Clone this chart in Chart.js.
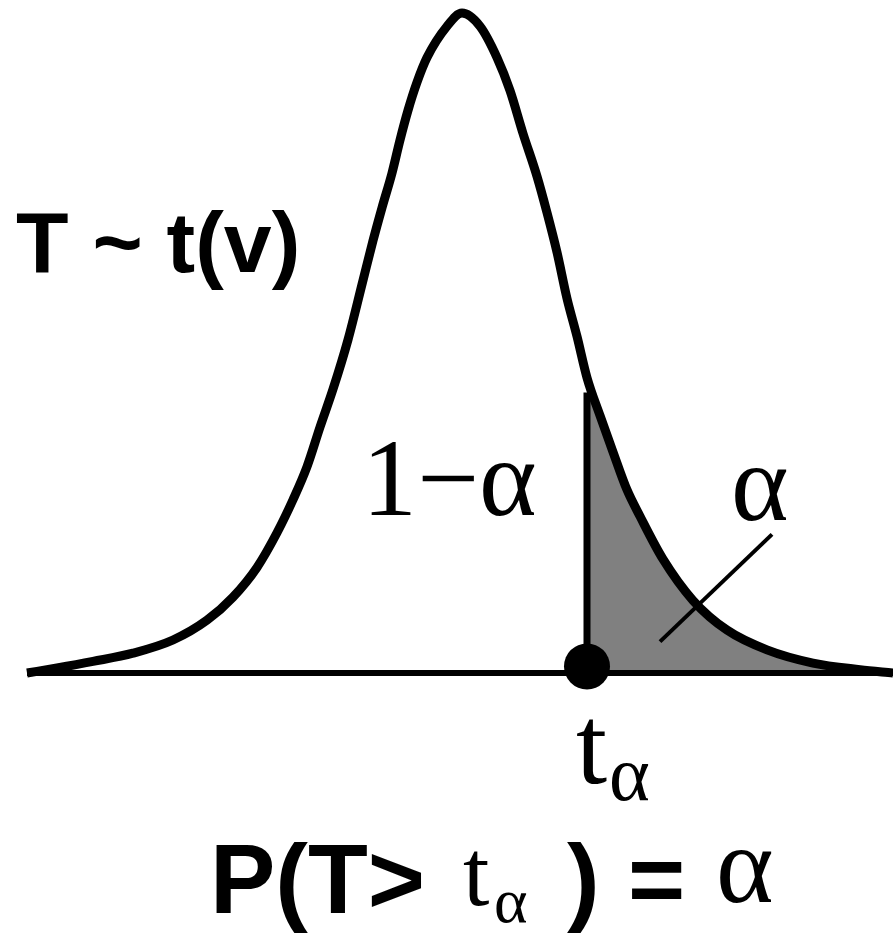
<!DOCTYPE html>
<html>
<head>
<meta charset="utf-8">
<script src="https://cdn.jsdelivr.net/npm/chart.js@4.4.1/dist/chart.umd.min.js"></script>
<style>
  html, body { margin: 0; padding: 0; background: #fff; }
  #chart { display: block; }
</style>
</head>
<body>
<canvas id="chart" width="893" height="933"></canvas>
<script>
// density curve (t value, height)
const curveX = [-4.35, -4.05, -3.69, -3.29, -2.89, -2.55, -2.29, -2.05, -1.85, -1.69,
  -1.55, -1.42, -1.29, -1.14, -0.99, -0.89, -0.80, -0.70, -0.62, -0.54,
  -0.45, -0.35, -0.15, 0, 0.18, 0.35, 0.48, 0.61, 0.75, 0.85,
  0.95, 1.05, 1.15, 1.25, 1.38, 1.51, 1.65, 1.78, 2.01, 2.31,
  2.65, 3.05, 3.51, 3.98, 4.31];
const curveY = [0, 0.003, 0.007, 0.012, 0.020, 0.032, 0.046, 0.064, 0.085, 0.105,
  0.125, 0.149, 0.172, 0.202, 0.238, 0.262, 0.282, 0.303, 0.323, 0.341,
  0.358, 0.373, 0.392, 0.400, 0.392, 0.373, 0.353, 0.327, 0.301, 0.279,
  0.255, 0.227, 0.204, 0.179, 0.156, 0.134, 0.111, 0.095, 0.069, 0.044,
  0.026, 0.014, 0.006, 0.002, 0];

// critical value t_alpha and the top of its line
const tAlpha = 1.25;
const tAlphaHeight = 0.170;

// axis line ends
const baseX = [-4.35, 4.31];

// pointer from the tail area to the alpha label
const pointerX = [1.98, 3.10];
const pointerY = [0.019, 0.084];

// ---- build datasets
const curvePts = curveX.map((x, i) => ({ x: x, y: curveY[i] }));
const tailPts = [{ x: tAlpha, y: tAlphaHeight }].concat(curvePts.filter(p => p.x > tAlpha));

const textPlugin = {
  id: 'labels',
  beforeDraw: (chart) => {
    const ctx = chart.ctx;
    ctx.save();
    ctx.fillStyle = '#fff';
    ctx.fillRect(0, 0, chart.width, chart.height);
    ctx.restore();
  },
  afterDraw: (chart) => {
    const ctx = chart.ctx;
    ctx.save();
    ctx.fillStyle = '#000';
    ctx.textAlign = 'left';
    ctx.textBaseline = 'alphabetic';

    ctx.font = 'bold 86px "Liberation Sans", Arial, sans-serif';
    ctx.fillText('T ~ t(v)', 16, 272);

    ctx.font = '110px "Liberation Serif", "Times New Roman", serif';
    ctx.fillText('1\u2212\u03b1', 362, 515);
    ctx.fillText('\u03b1', 731, 520);

    // t_alpha under the dot
    ctx.font = '112px "Liberation Serif", serif';
    ctx.fillText('t', 576, 783);
    ctx.font = '78px "Liberation Serif", serif';
    ctx.fillText('\u03b1', 609, 800);

    // P(T> t_alpha ) = alpha
    ctx.font = 'bold 98px "Liberation Sans", Arial, sans-serif';
    ctx.fillText('P(T>', 210, 913);
    ctx.font = '95px "Liberation Serif", serif';
    ctx.fillText('t', 463, 905);
    ctx.font = '64px "Liberation Serif", serif';
    ctx.fillText('\u03b1', 494, 922);
    ctx.font = 'bold 98px "Liberation Sans", Arial, sans-serif';
    ctx.fillText(')', 567, 913);
    ctx.fillText('=', 628, 913);
    ctx.font = '110px "Liberation Serif", serif';
    ctx.fillText('\u03b1', 716, 902);
    ctx.restore();
  }
};

new Chart(document.getElementById('chart'), {
  type: 'scatter',
  data: {
    datasets: [
      {
        label: 'dot',
        data: [{ x: tAlpha, y: 0.004 }],
        pointRadius: 23,
        pointBackgroundColor: '#000',
        pointBorderWidth: 0,
        order: 0
      },
      {
        label: 'density',
        data: curvePts,
        showLine: true,
        borderColor: '#000',
        borderWidth: 9,
        pointRadius: 0,
        cubicInterpolationMode: 'monotone',
        fill: false,
        order: 1
      },
      {
        label: 't alpha',
        data: [{ x: tAlpha, y: 0 }, { x: tAlpha, y: tAlphaHeight }],
        showLine: true,
        borderColor: '#000',
        borderWidth: 7,
        pointRadius: 0,
        order: 2
      },
      {
        label: 'pointer',
        data: pointerX.map((x, i) => ({ x: x, y: pointerY[i] })),
        showLine: true,
        borderColor: '#000',
        borderWidth: 4,
        pointRadius: 0,
        order: 3
      },
      {
        label: 'axis',
        data: baseX.map(x => ({ x: x, y: 0 })),
        showLine: true,
        borderColor: '#000',
        borderWidth: 6,
        pointRadius: 0,
        order: 4
      },
      {
        label: 'tail',
        data: tailPts,
        showLine: true,
        borderWidth: 0,
        borderColor: 'rgba(0,0,0,0)',
        backgroundColor: '#808080',
        pointRadius: 0,
        cubicInterpolationMode: 'monotone',
        fill: 'origin',
        order: 5
      }
    ]
  },
  options: {
    responsive: false,
    animation: false,
    layout: { padding: 0, autoPadding: false },
    scales: {
      x: { type: 'linear', min: -4.62, max: 4.31, display: false },
      y: { type: 'linear', min: -0.1576, max: 0.4079, display: false }
    },
    plugins: {
      legend: { display: false },
      tooltip: { enabled: false }
    }
  },
  plugins: [textPlugin]
});
</script>
</body>
</html>
